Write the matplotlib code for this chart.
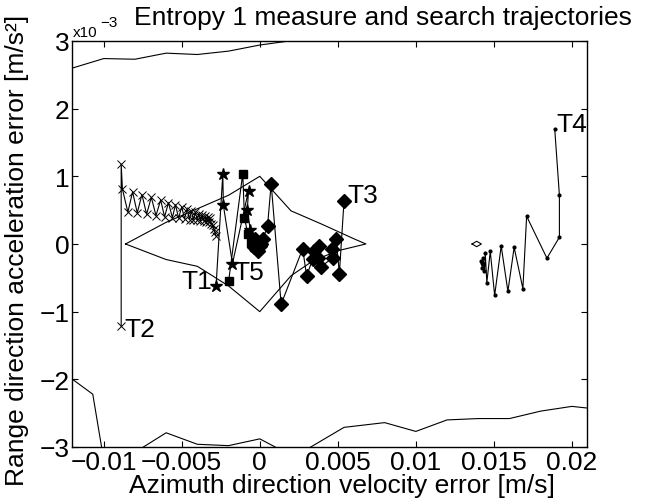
import matplotlib
matplotlib.use("Agg")
import matplotlib.pyplot as plt

# unidades: x e y em 1e-3 (m/s e m/s^2)
xticks = [-10, -5, 0, 5, 10, 15, 20]
xticklabels = ["\u22120.01", "\u22120.005", "0", "0.005", "0.01", "0.015", "0.02"]
yticks = [-3, -2, -1, 0, 1, 2, 3]
yticklabels = ["\u22123", "\u22122", "\u22121", "0", "1", "2", "3"]

# curvas de nivel (entropia)
cont_top_x = [-12, -10, -8, -6, -4, -2, 0, 1.9, 2.3]
cont_top_y = [2.60, 2.74, 2.73, 2.82, 2.80, 2.85, 2.94, 3.0, 3.05]
cont_bl_x = [-12, -10.7, -10.1]
cont_bl_y = [-2.0, -2.22, -3.05]
cont_bm_x = [-7.8, -6, -4, -2, 0, 1.4]
cont_bm_y = [-3.05, -2.79, -2.96, -2.98, -2.88, -3.05]
cont_br_x = [2.9, 5.4, 8, 10, 12, 14, 16, 18, 20, 21.2]
cont_br_y = [-3.05, -2.71, -2.64, -2.77, -2.60, -2.58, -2.58, -2.47, -2.40, -2.43]
cont_mid_x = [-8.6, -6, -4, -2, 0, 2, 4, 6, 6.8, 5, 3.4, 2, 0, -2, -4, -6, -8.6]
cont_mid_y = [0, 0.32, 0.52, 0.72, 1.0, 0.49, 0.29, 0.08, 0, -0.10, -0.25, -0.47, -1.0, -0.62, -0.33, -0.23, 0]
cont_small_x = [13.6, 13.9, 14.2, 13.9, 13.6]
cont_small_y = [0, 0.04, 0, -0.04, 0]

# trajetorias de busca
t1_x = [-2.8, -2.37, -2.33, -1.75, -0.72, -0.8, -0.6, -0.4, -0.3]
t1_y = [-0.62, 1.03, 0.57, -0.29, 0.79, 0.5, 0.2, 0.05, -0.02]

t2_x = [-8.88, -8.88, -8.8, -8.45, -8.15, -7.85, -7.55, -7.25, -6.95, -6.65, -6.35,
        -6.1, -5.85, -5.6, -5.4, -5.2, -5.0, -4.82, -4.65, -4.5, -4.38, -4.25, -4.12,
        -4.0, -3.9, -3.8, -3.7, -3.6, -3.5, -3.42, -3.34, -3.26, -3.18, -3.1, -3.02,
        -2.95, -2.88, -2.8]
t2_y = [-1.21, 1.18, 0.81, 0.47, 0.77, 0.46, 0.73, 0.44, 0.69, 0.42, 0.65,
        0.40, 0.61, 0.39, 0.58, 0.38, 0.55, 0.37, 0.52, 0.36, 0.49, 0.35, 0.47,
        0.35, 0.45, 0.34, 0.43, 0.34, 0.41, 0.33, 0.40, 0.32, 0.39, 0.30, 0.28,
        0.22, 0.17, 0.12]

t3_x = [5.4, 5.1, 4.9, 4.6, 4.7, 3.9, 3.8, 3.5, 3.7, 3.4, 3.0, 2.75, 1.37, 0.73,
        0.5, 0.21, 0.0, -0.2, -0.4, -0.1, 0.1, -0.3, -0.05]
t3_y = [0.64, -0.44, 0.07, -0.07, -0.2, -0.34, -0.03, -0.1, -0.2, -0.22, -0.47, -0.07,
        -0.89, 0.89, 0.27, 0.07, -0.03, 0.02, -0.05, -0.1, 0.0, 0.08, 0.01]

t4_x = [18.9, 19.2, 19.2, 18.4, 17.1, 16.86, 16.3, 15.9, 15.47, 15.05, 14.77, 14.55,
        14.45, 14.4, 14.3, 14.25, 14.2, 14.3, 14.25]
t4_y = [1.70, 0.72, 0.10, -0.21, 0.41, -0.66, -0.05, -0.70, -0.03, -0.76, -0.11, -0.57,
        -0.14, -0.4, -0.2, -0.35, -0.25, -0.3, -0.28]

t5_x = [-1.99, -1.09, -0.98, -0.77, -0.55, -0.35, -0.25]
t5_y = [-0.54, 1.04, 0.39, 0.15, 0.02, -0.05, 0.0]

plt.rcParams['font.family'] = ['Liberation Sans', 'DejaVu Sans']
fs = 19

fig = plt.figure(figsize=(6.59, 5.02), dpi=100)
ax = fig.add_axes([0.110, 0.1076, 0.7815, 0.8088])

# contornos
for cx, cy in [(cont_top_x, cont_top_y), (cont_bl_x, cont_bl_y), (cont_bm_x, cont_bm_y),
               (cont_br_x, cont_br_y), (cont_mid_x, cont_mid_y), (cont_small_x, cont_small_y)]:
    ax.plot(cx, cy, color='black', lw=0.8)

# trajetorias
ax.plot(t2_x, t2_y, '-x', color='black', lw=0.8, ms=6, mew=0.7)
ax.plot(t1_x, t1_y, '-*', color='black', lw=0.8, ms=9, mfc='black')
ax.plot(t5_x, t5_y, '-s', color='black', lw=0.8, ms=5.5, mfc='black')
ax.plot(t3_x, t3_y, '-D', color='black', lw=0.8, ms=7, mfc='black')
ax.plot(t4_x, t4_y, '.', color='black', lw=0.8, ms=4, linestyle='-')

# rotulos das trajetorias
ax.text(t1_x[0] - 0.25, t1_y[0] + 0.08, 'T1', fontsize=fs, ha='right', va='center')
ax.text(t2_x[0] + 0.2, t2_y[0] - 0.05, 'T2', fontsize=fs, ha='left', va='center')
ax.text(t3_x[0] + 0.2, t3_y[0] + 0.08, 'T3', fontsize=fs, ha='left', va='center')
ax.text(t4_x[0] + 0.1, t4_y[0] + 0.08, 'T4', fontsize=fs, ha='left', va='center')
ax.text(t5_x[0] + 0.3, t5_y[0] + 0.12, 'T5', fontsize=fs, ha='left', va='center')

ax.set_xlim(-12, 21)
ax.set_ylim(-3, 3)
ax.set_xticks(xticks)
ax.set_xticklabels(xticklabels)
ax.set_yticks(yticks)
ax.set_yticklabels(yticklabels)
ax.tick_params(direction='in', top=True, right=True, length=4, width=0.8,
               labelsize=fs, pad=2)
for s in ax.spines.values():
    s.set_linewidth(1.0)

# textos fora dos eixos
fig.text(383 / 659, 1 - 25 / 502, 'Entropy 1 measure and search trajectories',
         fontsize=fs, ha='center', va='baseline')
fig.text(342 / 659, 1 - 493 / 502, 'Azimuth direction velocity error [m/s]',
         fontsize=fs, ha='center', va='baseline')
fig.text(17 / 659, 1 - 250 / 502, 'Range direction acceleration error [m/s\u00b2]',
         fontsize=fs, ha='center', va='center', rotation=90)
fig.text(73 / 659, 1 - 37 / 502, 'x10', fontsize=11, ha='left', va='baseline')
fig.text(100 / 659, 1 - 27 / 502, '\u22123', fontsize=11, ha='left', va='baseline')

fig.savefig('out.png', dpi=100)
